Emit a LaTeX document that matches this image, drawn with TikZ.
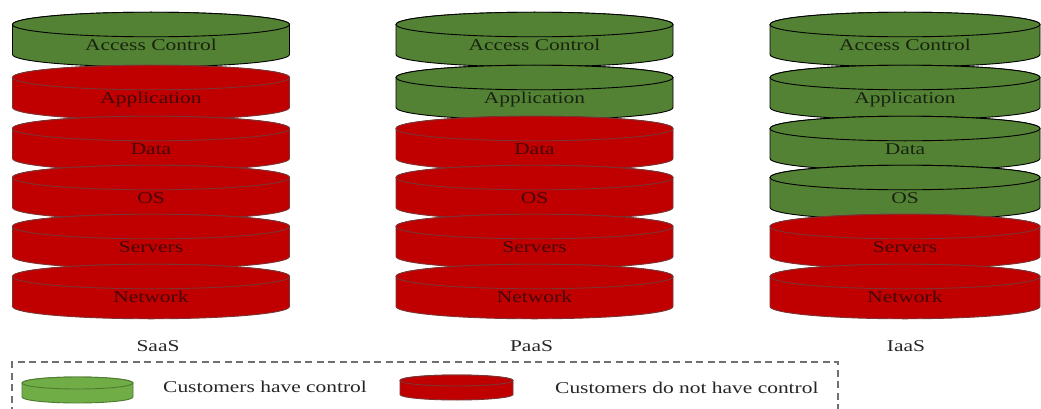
\documentclass[tikz,border=0pt]{standalone}
\usepackage{fontspec}
\setmainfont{Liberation Serif}[FakeStretch=1.3]
\definecolor{cgreen}{HTML}{548235}
\definecolor{cred}{HTML}{C00000}
\definecolor{credl}{HTML}{7A3434}
\definecolor{lgreen}{HTML}{70AD47}
\definecolor{lgreenl}{HTML}{4E7A30}
\definecolor{gtxt}{HTML}{18240F}
\definecolor{rtxt}{HTML}{440808}
\definecolor{dashc}{HTML}{707070}
\newcommand\cyl[6]{%
 \pgfmathsetmacro\cyt{408-(#2)}\pgfmathsetmacro\cyb{408-(#2)-(#5)}%
 \pgfmathsetmacro\cxl{#1-(#3)}\pgfmathsetmacro\cxr{#1+(#3)}%
 \path[#6] (\cxl,\cyt) -- (\cxl,\cyb) arc[start angle=180,end angle=360,x radius=#3,y radius=#4] -- (\cxr,\cyt) arc[start angle=0,end angle=180,x radius=#3,y radius=#4] -- cycle;
 \path[#6] (#1,\cyt) ellipse[x radius=#3,y radius=#4];
}
\newcommand\dsk[6]{%
 \cyl{#2}{#3-19.5}{#4}{12.3}{30}{#5disk}%
 \pgfmathsetmacro\cty{408-(#3)-6.5}%
 \node[#5txt] (#1) at (#2,\cty) {#6};
}
\begin{document}
\begin{tikzpicture}[x=1pt,y=1pt,
  every node/.style={inner sep=0pt,font=\fontsize{16.5}{18}\selectfont},
  gdisk/.style={fill=cgreen,draw=black,line width=0.9pt},
  rdisk/.style={fill=cred,draw=credl,line width=0.9pt},
  gtxt/.style={anchor=base,text=gtxt},
  rtxt/.style={anchor=base,text=rtxt},
  lbl/.style={anchor=base,text=black!85},
  legtxt/.style={anchor=base west,text=black!85},
  legbox/.style={draw=dashc,dashed,dash pattern=on 7pt off 4.5pt,line width=1.3pt},
  lgdisk/.style={fill=lgreen,draw=lgreenl,line width=0.9pt},
  lrdisk/.style={fill=cred,draw=credl,line width=0.9pt}]
\useasboundingbox (0,0) rectangle (1041,408);
\clip (0,0) rectangle (1041,408);
\fill[white] (0,0) rectangle (1041,408);
% SaaS
\dsk{s1}{151}{44}{138.5}{g}{Access Control}
\dsk{s2}{151}{97}{138.5}{r}{Application}
\dsk{s3}{151}{148}{138.5}{r}{Data}
\dsk{s4}{151}{197}{138.5}{r}{OS}
\dsk{s5}{151}{246}{138.5}{r}{Servers}
\dsk{s6}{151}{296}{138.5}{r}{Network}
% PaaS
\dsk{p1}{534.5}{44}{138.5}{g}{Access Control}
\dsk{p2}{534.5}{97}{138.5}{g}{Application}
\dsk{p3}{534.5}{148}{138.5}{r}{Data}
\dsk{p4}{534.5}{197}{138.5}{r}{OS}
\dsk{p5}{534.5}{246}{138.5}{r}{Servers}
\dsk{p6}{534.5}{296}{138.5}{r}{Network}
% IaaS
\dsk{i1}{905}{44}{135}{g}{Access Control}
\dsk{i2}{905}{97}{135}{g}{Application}
\dsk{i3}{905}{148}{135}{g}{Data}
\dsk{i4}{905}{197}{135}{g}{OS}
\dsk{i5}{905}{246}{135}{r}{Servers}
\dsk{i6}{905}{296}{135}{r}{Network}
% labels
\node[lbl] (saas) at (158,{408-351}) {SaaS};
\node[lbl] (paas) at (531.5,{408-351}) {PaaS};
\node[lbl] (iaas) at (906,{408-351}) {IaaS};
% legend
\path[legbox] (12,-6) -- (12,{408-362}) -- (838,{408-362}) -- (838,-6);
\cyl{77.5}{383}{55.5}{6}{14}{lgdisk}
\cyl{456.5}{380.5}{56.5}{5.5}{14}{lrdisk}
\node[legtxt] (lg) at (163,{408-392}) {Customers have control};
\node[legtxt] (lr) at (555,{408-393}) {Customers do not have control};
\end{tikzpicture}
\end{document}
